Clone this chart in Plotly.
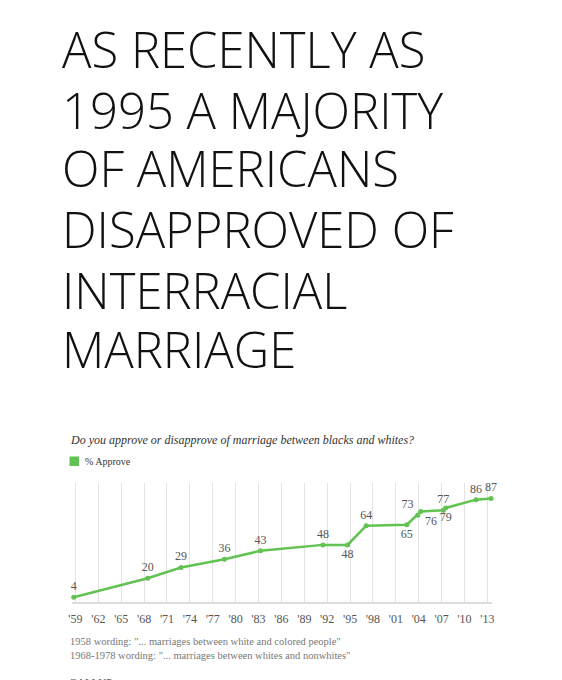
import plotly.graph_objects as go

# titulo y textos
title_lines = ["AS RECENTLY AS", "1995 A MAJORITY", "OF AMERICANS",
               "DISAPPROVED OF", "INTERRACIAL", "MARRIAGE"]
question = "Do you approve or disapprove of marriage between blacks and whites?"
series_name = "% Approve"
notes = ['1958 wording: "... marriages between white and colored people"',
         '1968-1978 wording: "... marriages between whites and nonwhites"']
source = "GALLUP"

# datos (fecha aproximada de cada encuesta, % que aprueba)
survey_dates = ["1958-10-10", "1968-06-20", "1972-11-01", "1978-07-15",
                "1983-04-05", "1991-06-10", "1994-09-01", "1997-02-10",
                "2002-06-10", "2003-11-15", "2004-04-10", "2007-03-25",
                "2007-07-15", "2011-07-10", "2013-06-25"]
approve = [4, 20, 29, 36, 43, 48, 48, 64, 65, 73, 76, 77, 79, 86, 87]
label_pos = ["top center", "top center", "top center", "top center",
             "top center", "top center", "bottom center", "top center",
             "bottom center", "top left", "bottom right", "top center",
             "bottom center", "top center", "top center"]

tick_years = list(range(1959, 2014, 3))
tick_vals = [f"{y}-01-01" for y in tick_years]
tick_text = ["'" + str(y)[2:] for y in tick_years]

verde = "#62c252"
serif = "Liberation Serif"

# la pagina tiene 8px de margen en el body
OFF = 8
W, H = 562 - OFF, 680 - OFF
# area del grafico (coordenadas de la figura)
L, R, T, B = 72 - OFF, 492 - OFF, 483 - OFF, 602 - OFF


def px(x):
    # x en pixeles de la pagina -> paper
    return (x - OFF - L) / (R - L)


def py(y):
    return (B - (y - OFF)) / (B - T)


fig = go.Figure()
fig.add_trace(go.Scatter(
    x=survey_dates, y=approve,
    mode="lines+markers+text",
    name=series_name,
    line=dict(color=verde, width=2.5),
    marker=dict(color=verde, size=5),
    text=[str(v) for v in approve],
    textposition=label_pos,
    textfont=dict(family=serif, size=12, color="#555555"),
    cliponaxis=False,
    showlegend=False,
    hoverinfo="x+y",
))

annotations = []
title_mid = [49.5, 110, 168, 228.5, 289.5, 348.5]
for linea, ym in zip(title_lines, title_mid):
    annotations.append(dict(
        text=linea, xref="paper", yref="paper", x=px(60), y=py(ym),
        xanchor="left", yanchor="middle", showarrow=False,
        font=dict(family="Open Sans", size=49, color="#111111", weight=300),
    ))
annotations.append(dict(
    text="<i>" + question + "</i>", xref="paper", yref="paper",
    x=px(68), y=py(440), xanchor="left", yanchor="middle", showarrow=False,
    font=dict(family=serif, size=12, color="#333333"),
))
# leyenda
annotations.append(dict(
    text=series_name, xref="paper", yref="paper",
    x=px(83), y=py(461), xanchor="left", yanchor="middle", showarrow=False,
    font=dict(family=serif, size=10, color="#333333"),
))
for nota, ym in zip(notes, [641.7, 655]):
    annotations.append(dict(
        text=nota, xref="paper", yref="paper", x=px(68), y=py(ym),
        xanchor="left", yanchor="middle", showarrow=False,
        font=dict(family=serif, size=10.5, color="#777777"),
    ))
annotations.append(dict(
    text=source, xref="paper", yref="paper", x=px(67), y=py(674),
    xanchor="left", yanchor="top", showarrow=False,
    font=dict(family=serif, size=11, color="#555555"),
))

fig.update_layout(
    width=W, height=H,
    margin=dict(l=L, r=W - R, t=T, b=H - B),
    paper_bgcolor="white", plot_bgcolor="white",
    annotations=annotations,
    shapes=[dict(type="rect", xref="paper", yref="paper",
                 x0=px(69.5), x1=px(79), y0=py(466), y1=py(456.5),
                 fillcolor=verde, line=dict(width=0))],
    showlegend=False,
    xaxis=dict(
        type="date", range=["1958-07-20", "2013-08-10"],
        tickvals=tick_vals, ticktext=tick_text,
        showgrid=True, gridcolor="#e3e3e3", gridwidth=1,
        showline=True, linecolor="#dddddd", linewidth=2,
        ticks="", zeroline=False, ticklabelstandoff=5,
        tickfont=dict(family=serif, size=12, color="#555555"),
    ),
    yaxis=dict(range=[0, 100], visible=False, showgrid=False, zeroline=False),
)

fig.write_html("out.html")
